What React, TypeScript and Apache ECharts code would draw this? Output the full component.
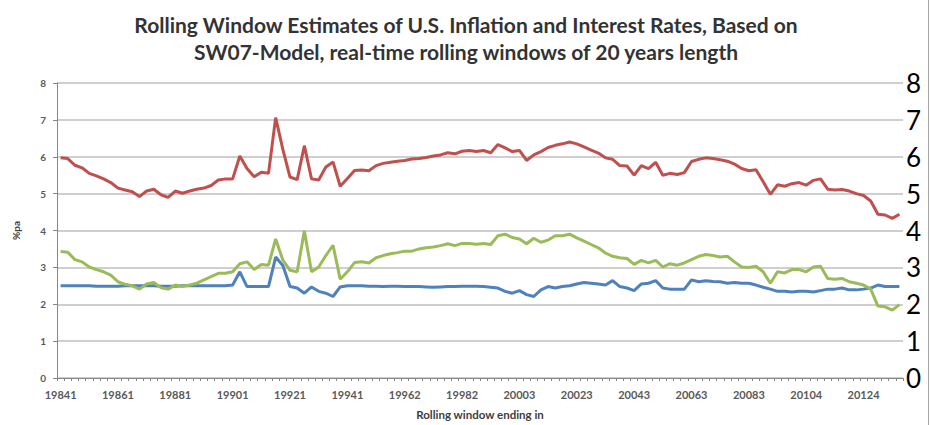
import React, { useEffect, useRef } from "react";
import * as echarts from "echarts";

const categories: string[] = [
  "19841","19842","19843","19844","19851","19852","19853","19854",
  "19861","19862","19863","19864","19871","19872","19873","19874",
  "19881","19882","19883","19884","19891","19892","19893","19894",
  "19901","19902","19903","19904","19911","19912","19913","19914",
  "19921","19922","19923","19924","19931","19932","19933","19934",
  "19941","19942","19943","19944","19951","19952","19953","19961",
  "19962","19963","19964","19971","19972","19973","19974","19981",
  "19982","19983","19984","19991","19992","19993","20001","20002",
  "20003","20004","20011","20012","20013","20014","20021","20022",
  "20023","20024","20031","20032","20033","20034","20041","20042",
  "20043","20044","20051","20052","20053","20054","20061","20062",
  "20063","20064","20071","20072","20073","20074","20081","20082",
  "20083","20084","20091","20092","20093","20094","20101","20103",
  "20104","20111","20112","20113","20114","20121","20122","20123",
  "20124","20131","20132","20133","20134","20141"
];

const redSeries: number[] = [
  5.97,5.95,5.77,5.70,5.55,5.48,5.40,5.30,5.15,5.10,
  5.05,4.92,5.07,5.12,4.97,4.90,5.07,5.01,5.07,5.12,
  5.15,5.22,5.37,5.40,5.40,6.02,5.68,5.46,5.58,5.55,
  7.06,6.20,5.45,5.38,6.30,5.40,5.37,5.72,5.86,5.20,
  5.41,5.63,5.64,5.62,5.76,5.82,5.85,5.88,5.90,5.94,
  5.95,5.98,6.02,6.05,6.11,6.08,6.15,6.17,6.14,6.17,
  6.11,6.33,6.24,6.14,6.17,5.90,6.05,6.14,6.25,6.31,
  6.35,6.40,6.35,6.27,6.18,6.10,5.97,5.93,5.76,5.75,
  5.50,5.76,5.68,5.85,5.50,5.55,5.52,5.57,5.87,5.93,
  5.97,5.95,5.92,5.88,5.80,5.68,5.62,5.65,5.32,4.98,
  5.24,5.20,5.27,5.30,5.23,5.36,5.40,5.12,5.10,5.11,
  5.07,5.00,4.95,4.80,4.44,4.42,4.33,4.44
];

const greenSeries: number[] = [
  3.43,3.41,3.21,3.15,3.01,2.94,2.88,2.79,2.61,2.54,
  2.50,2.41,2.55,2.59,2.45,2.41,2.52,2.48,2.52,2.57,
  2.66,2.75,2.84,2.84,2.88,3.10,3.15,2.94,3.08,3.06,
  3.77,3.20,2.92,2.88,3.99,2.88,3.01,3.32,3.60,2.68,
  2.88,3.13,3.15,3.12,3.26,3.32,3.37,3.40,3.44,3.44,
  3.50,3.53,3.55,3.59,3.64,3.59,3.65,3.65,3.63,3.65,
  3.62,3.86,3.90,3.81,3.77,3.64,3.79,3.68,3.74,3.86,
  3.86,3.90,3.80,3.71,3.62,3.53,3.39,3.30,3.26,3.24,
  3.08,3.19,3.12,3.19,3.01,3.10,3.06,3.12,3.21,3.30,
  3.35,3.32,3.28,3.30,3.15,3.01,3.00,3.03,2.88,2.57,
  2.88,2.85,2.94,2.94,2.88,3.01,3.03,2.70,2.68,2.70,
  2.61,2.57,2.52,2.41,1.95,1.93,1.84,1.99
];

const blueSeries: number[] = [
  2.50,2.50,2.50,2.50,2.50,2.49,2.49,2.49,2.49,2.50,
  2.50,2.50,2.50,2.50,2.49,2.49,2.49,2.50,2.50,2.50,
  2.50,2.50,2.50,2.50,2.52,2.88,2.48,2.48,2.48,2.48,
  3.28,3.05,2.48,2.44,2.30,2.47,2.35,2.30,2.21,2.47,
  2.50,2.50,2.50,2.49,2.49,2.48,2.49,2.49,2.48,2.48,
  2.48,2.47,2.46,2.47,2.48,2.48,2.49,2.49,2.49,2.48,
  2.46,2.44,2.35,2.30,2.37,2.26,2.21,2.39,2.48,2.44,
  2.48,2.50,2.55,2.59,2.57,2.55,2.52,2.64,2.48,2.44,
  2.37,2.55,2.57,2.64,2.44,2.41,2.41,2.41,2.66,2.61,
  2.64,2.62,2.61,2.57,2.59,2.57,2.57,2.52,2.46,2.41,
  2.35,2.35,2.33,2.35,2.35,2.33,2.37,2.41,2.41,2.44,
  2.39,2.39,2.41,2.44,2.52,2.48,2.48,2.48
];

const titleLines: string[] = [
  "Rolling Window Estimates of U.S. Inflation and Interest Rates, Based on",
  "SW07-Model, real-time rolling windows of 20 years length",
];

export default function App() {
  const ref = useRef<HTMLDivElement>(null);

  useEffect(() => {
    document.body.style.margin = "0";
    if (!ref.current) return;
    const chart = echarts.init(ref.current, null, { renderer: "svg" });
    const fam = "Lato, 'Liberation Sans', sans-serif";
    const axisFont = { fontFamily: fam, fontSize: 10, fontWeight: "bold" as const, color: "#595959" };
    chart.setOption({
      animation: false,
      backgroundColor: "#ffffff",
      title: {
        text: titleLines.join("\n"),
        left: "center",
        top: 6,
        textStyle: {
          fontFamily: fam,
          fontSize: 21,
          fontWeight: "bold",
          color: "#333333",
          lineHeight: 27,
        },
      },
      grid: { left: 57, right: 29, top: 83, bottom: 42 },
      xAxis: {
        type: "category",
        data: categories,
        boundaryGap: true,
        name: "Rolling window ending in",
        nameLocation: "middle",
        nameGap: 30,
        nameTextStyle: { fontFamily: fam, fontSize: 11.5, fontWeight: "bold", color: "#404040" },
        axisLine: { lineStyle: { color: "#868686", width: 1 } },
        axisTick: { show: true, interval: 0, length: 3, lineStyle: { color: "#868686" } },
        axisLabel: { ...axisFont, fontSize: 11, interval: 7, margin: 11 },
        splitLine: { show: false },
      },
      yAxis: [
        {
          type: "value",
          min: 0,
          max: 8,
          interval: 1,
          name: "%pa",
          nameLocation: "middle",
          nameRotate: 90,
          nameGap: 36,
          nameTextStyle: { fontFamily: fam, fontSize: 10, fontWeight: "bold", color: "#404040" },
          axisLine: { show: true, lineStyle: { color: "#868686", width: 1 } },
          axisTick: { show: true, length: 4, lineStyle: { color: "#868686" } },
          axisLabel: { ...axisFont, margin: 11 },
          splitLine: { show: true, lineStyle: { color: "#BFBFBF", width: 1.5 } },
        },
        {
          type: "value",
          position: "right",
          min: 0,
          max: 8,
          interval: 1,
          axisLine: { show: false },
          axisTick: { show: false },
          splitLine: { show: false },
          axisLabel: {
            fontFamily: fam,
            fontSize: 26,
            color: "#000000",
            margin: 3,
            padding: [0, 0, 6, 0],
          },
        },
      ],
      graphic: [
        {
          type: "line",
          shape: { x1: 928.5, y1: 0, x2: 928.5, y2: 425 },
          style: { stroke: "#A6A6A6", lineWidth: 1 },
        },
      ],
      series: [
        {
          name: "Blue",
          type: "line",
          data: blueSeries,
          showSymbol: false,
          symbol: "none",
          lineStyle: { color: "#4F81BD", width: 3 },
          itemStyle: { color: "#4F81BD" },
        },
        {
          name: "Red",
          type: "line",
          data: redSeries,
          showSymbol: false,
          symbol: "none",
          lineStyle: { color: "#C0504D", width: 3 },
          itemStyle: { color: "#C0504D" },
        },
        {
          name: "Green",
          type: "line",
          data: greenSeries,
          showSymbol: false,
          symbol: "none",
          lineStyle: { color: "#9BBB59", width: 3 },
          itemStyle: { color: "#9BBB59" },
        },
      ],
    });
    return () => chart.dispose();
  }, []);

  return <div ref={ref} style={{ width: 932, height: 425 }} />;
}
